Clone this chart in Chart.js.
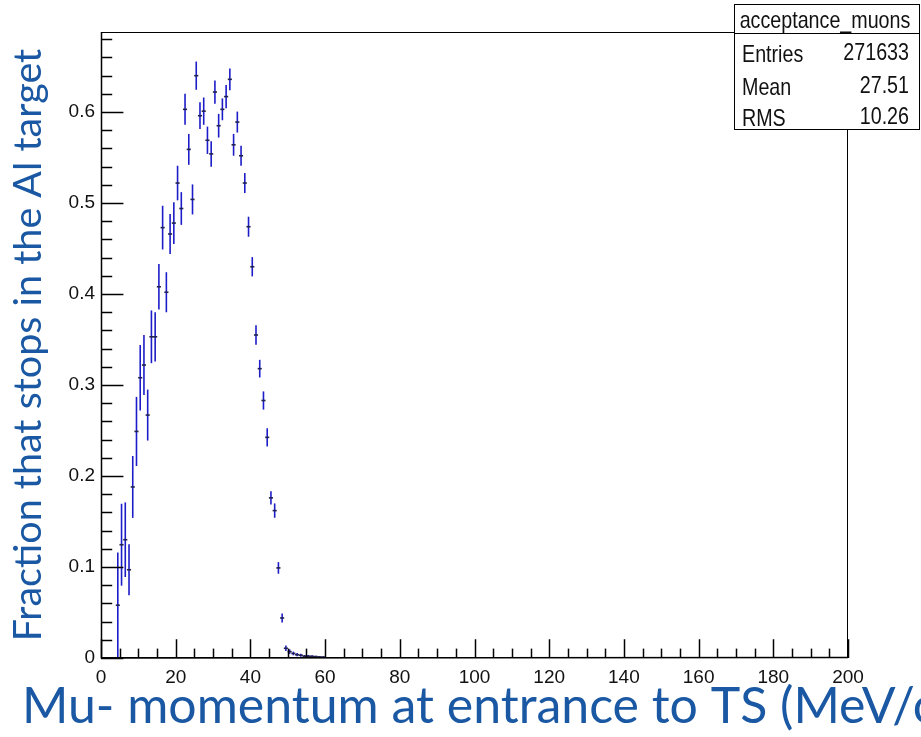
<!DOCTYPE html>
<html>
<head>
<meta charset="utf-8">
<title>acceptance_muons</title>
<script src="https://cdn.jsdelivr.net/npm/chart.js@4.4.1/dist/chart.umd.min.js"></script>
<style>
    html, body { margin: 0; padding: 0; background: #fff; }
    canvas { display: block; }
</style>
</head>
<body>
<canvas id="myChart" width="921" height="737"></canvas>
<script>
// bin centres (MeV/c), 1 MeV/c bins
const momentum = [4.5, 5.5, 6.5, 7.5, 8.5, 9.5, 10.5, 11.5, 12.5, 13.5, 14.5, 15.5, 16.5, 17.5, 18.5, 19.5,
    20.5, 21.5, 22.5, 23.5, 24.5, 25.5, 26.5, 27.5, 28.5, 29.5, 30.5, 31.5, 32.5, 33.5, 34.5, 35.5,
    36.5, 37.5, 38.5, 39.5, 40.5, 41.5, 42.5, 43.5, 44.5, 45.5, 46.5, 47.5, 48.5, 49.5, 50.5, 51.5,
    52.5, 53.5, 54.5, 55.5, 56.5, 57.5, 58.5, 59.5];
const fraction = [0.058, 0.1245, 0.130, 0.097, 0.188, 0.249, 0.308, 0.322, 0.267, 0.353, 0.353, 0.408, 0.473, 0.402, 0.466, 0.478,
    0.522, 0.494, 0.603, 0.559, 0.504, 0.640, 0.596, 0.601, 0.569, 0.554, 0.622, 0.585, 0.603, 0.617, 0.636, 0.564,
    0.589, 0.552, 0.522, 0.474, 0.430, 0.355, 0.318, 0.283, 0.2425, 0.176, 0.162, 0.099, 0.044, 0.0107, 0.007, 0.005,
    0.0036, 0.003, 0.002, 0.002, 0.0018, 0.0015, 0.0012, 0.001];
const fractionErr = [0.058, 0.045, 0.041, 0.028, 0.034, 0.038, 0.036, 0.033, 0.028, 0.029, 0.027, 0.025, 0.024, 0.022, 0.022, 0.023,
    0.019, 0.018, 0.017, 0.017, 0.0165, 0.0155, 0.0147, 0.015, 0.015, 0.014, 0.0128, 0.013, 0.012, 0.0128, 0.012, 0.012,
    0.0115, 0.011, 0.011, 0.011, 0.0106, 0.0108, 0.0097, 0.010, 0.010, 0.0073, 0.0079, 0.0064, 0.005, 0.003, 0.0025, 0.002,
    0.0018, 0.0016, 0.0013, 0.0013, 0.0012, 0.001, 0.001, 0.001];

const xTickValues = [0, 20, 40, 60, 80, 100, 120, 140, 160, 180, 200];
const yTickValues = [0, 0.1, 0.2, 0.3, 0.4, 0.5, 0.6];

const histName = 'acceptance_muons';
const statNames = ['Entries', 'Mean', 'RMS'];
const statValues = ['271633', '27.51', '10.26'];

const xTitle = 'Mu- momentum at entrance to TS (MeV/c)';
const yTitle = 'Fraction that stops in the Al target';

const rootFont = "'Liberation Sans', Arial, sans-serif";
const slideFont = "Lato, 'Open Sans', sans-serif";
const slideBlue = '#1a58a3';

// ROOT text is a narrow Arial: squeeze Liberation Sans sideways
function narrowText(ctx, text, x, y, align) {
    ctx.save();
    ctx.translate(x, y);
    ctx.scale(0.82, 1);
    ctx.textAlign = align;
    ctx.fillText(text, 0, 0);
    ctx.restore();
}

// vertical error bars + horizontal bin-width marks, like ROOT's "E" option
const errorBars = {
    id: 'errorBars',
    afterDatasetsDraw(chart) {
        const {ctx, chartArea: a, scales: {x, y}} = chart;
        ctx.save();
        ctx.beginPath();
        ctx.rect(a.left, a.top, a.width, a.height);
        ctx.clip();
        ctx.lineWidth = 1.6;
        momentum.forEach((m, i) => {
            const px = x.getPixelForValue(m);
            const py = y.getPixelForValue(fraction[i]);
            const hi = y.getPixelForValue(fraction[i] + fractionErr[i]);
            const lo = y.getPixelForValue(Math.max(0, fraction[i] - fractionErr[i]));
            ctx.strokeStyle = '#1c1cc8';
            ctx.beginPath();
            ctx.moveTo(px, hi);
            ctx.lineTo(px, lo);
            ctx.stroke();
            ctx.strokeStyle = '#22224c';
            ctx.beginPath();
            ctx.moveTo(x.getPixelForValue(m - 0.55), py);
            ctx.lineTo(x.getPixelForValue(m + 0.55), py);
            ctx.stroke();
        });
        ctx.restore();
    }
};

// frame, inside ticks, stats box and the slide's x title
const rootFrame = {
    id: 'rootFrame',
    afterDraw(chart) {
        const {ctx, chartArea: a, scales: {x, y}} = chart;
        ctx.save();
        ctx.strokeStyle = '#000';
        ctx.lineWidth = 1;
        ctx.strokeRect(a.left + 0.5, a.top + 0.5, a.width - 1, a.height - 1);

        // y ticks: major 0.1, minor 0.02
        ctx.lineWidth = 1.5;
        const yMajor = 0.03 * a.width;
        for (let k = 0; k * 0.02 <= y.max + 1e-9; k++) {
            const py = Math.round(y.getPixelForValue(k * 0.02)) + 0.5;
            const len = k % 5 === 0 ? yMajor : yMajor / 2;
            ctx.beginPath();
            ctx.moveTo(a.left, py);
            ctx.lineTo(a.left + len, py);
            ctx.stroke();
        }
        // x ticks: major 20, minor 5
        const xMajor = 0.03 * a.height;
        for (let k = 0; k * 5 <= x.max; k++) {
            const px = Math.round(x.getPixelForValue(k * 5)) + 0.5;
            const len = k % 4 === 0 ? xMajor : xMajor / 2;
            ctx.beginPath();
            ctx.moveTo(px, a.bottom);
            ctx.lineTo(px, a.bottom - len);
            ctx.stroke();
        }
        ctx.beginPath();
        ctx.moveTo(a.left + 0.5, a.top);
        ctx.lineTo(a.left + 0.5, a.bottom);
        ctx.lineTo(a.right, a.bottom - 0.5);
        ctx.stroke();

        // stats box
        const bx = a.right - 114, by = 4, bw = 186, bh = 126;
        ctx.fillStyle = '#fff';
        ctx.fillRect(bx, by, bw, bh);
        ctx.lineWidth = 1;
        ctx.strokeRect(bx + 0.5, by + 0.5, bw - 1, bh - 1);
        ctx.beginPath();
        ctx.moveTo(bx, by + 29.5);
        ctx.lineTo(bx + bw, by + 29.5);
        ctx.stroke();
        ctx.fillStyle = '#111';
        ctx.font = '24px ' + rootFont;
        ctx.textBaseline = 'alphabetic';
        narrowText(ctx, histName, bx + bw / 2 - 2, by + 24, 'center');
        const rowBase = [58, 91, 122];
        statNames.forEach((name, i) => {
            narrowText(ctx, name, bx + 8, by + rowBase[i], 'left');
            narrowText(ctx, statValues[i], bx + bw - 11, by + rowBase[i] - 2, 'right');
        });

        // x axis title from the slide, wider than the plot
        ctx.fillStyle = slideBlue;
        ctx.font = '50px ' + slideFont;
        ctx.textAlign = 'left';
        ctx.fillText(xTitle, 22, 723);
        ctx.restore();
    }
};

new Chart(document.getElementById('myChart'), {
    type: 'scatter',
    data: {
        datasets: [{
            label: histName,
            data: momentum.map((m, i) => ({x: m, y: fraction[i]})),
            pointRadius: 0,
            pointHoverRadius: 0,
            showLine: false,
            borderColor: '#1c1cc8'
        }]
    },
    options: {
        responsive: false,
        animation: false,
        events: [],
        layout: {padding: {top: 32, right: 73, left: 0, bottom: 0}},
        plugins: {
            legend: {display: false},
            tooltip: {enabled: false}
        },
        scales: {
            x: {
                type: 'linear',
                min: 0,
                max: 200,
                afterBuildTicks: scale => { scale.ticks = xTickValues.map(v => ({value: v})); },
                afterFit: scale => { scale.height = 79; },
                grid: {display: false, drawTicks: false},
                border: {display: false},
                ticks: {
                    autoSkip: false,
                    maxRotation: 0,
                    padding: 8,
                    color: '#111',
                    font: {family: rootFont, size: 19},
                    callback: v => String(v)
                }
            },
            y: {
                min: 0,
                max: 0.688,
                afterBuildTicks: scale => { scale.ticks = yTickValues.map(v => ({value: v})); },
                afterFit: scale => { scale.width = 101; },
                grid: {display: false, drawTicks: false},
                border: {display: false},
                ticks: {
                    padding: 6,
                    color: '#111',
                    font: {family: rootFont, size: 19},
                    callback: v => v === 0 ? '0' : v.toFixed(1)
                },
                title: {
                    display: true,
                    text: yTitle,
                    color: slideBlue,
                    font: {family: slideFont, size: 39.5},
                    padding: {top: 5, bottom: 0}
                }
            }
        }
    },
    plugins: [errorBars, rootFrame]
});
</script>
</body>
</html>
